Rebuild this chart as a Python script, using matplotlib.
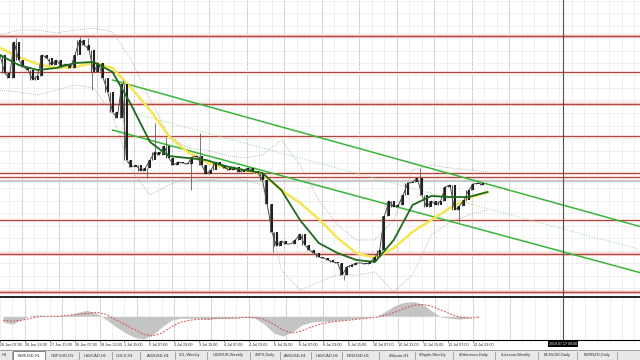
import numpy as np
import matplotlib.pyplot as plt
from matplotlib.transforms import blended_transform_factory
from matplotlib.patches import Rectangle

# ---- EURUSD H1 closes, one sample every 3 bars ----
close = [1.1385, 1.1367, 1.1362, 1.1398, 1.1380, 1.1373, 1.1370, 1.1360, 1.1364, 1.1385,
         1.1382, 1.1375, 1.1380, 1.1374, 1.1376, 1.1372, 1.1385, 1.1400, 1.1395, 1.1390,
         1.1368, 1.1377, 1.1362, 1.1348, 1.1328, 1.1322, 1.1356, 1.1280, 1.1273, 1.1275,
         1.1269, 1.1272, 1.1280, 1.1288, 1.1285, 1.1294, 1.1282, 1.1275, 1.1278, 1.1277,
         1.1276, 1.1283, 1.1284, 1.1275, 1.1266, 1.1270, 1.1278, 1.1275, 1.1272, 1.1270,
         1.1273, 1.1268, 1.1270, 1.1272, 1.1269, 1.1267, 1.1260, 1.1236, 1.1208, 1.1194,
         1.1199, 1.1196, 1.1196, 1.1200, 1.1206, 1.1195, 1.1190, 1.1187, 1.1183, 1.1182,
         1.1180, 1.1178, 1.1177, 1.1165, 1.1173, 1.1175, 1.1177, 1.1177, 1.1176, 1.1178,
         1.1183, 1.1190, 1.1224, 1.1239, 1.1233, 1.1235, 1.1245, 1.1257, 1.1258, 1.1262,
         1.1245, 1.1233, 1.1239, 1.1235, 1.1239, 1.1253, 1.1255, 1.1230, 1.1234, 1.1240,
         1.1250, 1.1256, 1.1257, 1.1255]

# long wicks (bar, extreme price)
spike_bar = [10, 51, 56, 59, 79, 94, 99, 106, 122, 128, 175, 220, 269, 294]
spike_px = [1.1402, 1.1403, 1.1402, 1.1350, 1.1360, 1.1262, 1.1317, 1.1303, 1.1250,
            1.1307, 1.1188, 1.1160, 1.1272, 1.1218]

# moving averages and bands, one sample every 12 bars
ma_fast = [1.1385, 1.1375, 1.1370, 1.1372, 1.1377, 1.1378, 1.1368, 1.1335, 1.1298, 1.1284,
           1.1282, 1.1280, 1.1274, 1.1270, 1.1267, 1.1250, 1.1220, 1.1197, 1.1187, 1.1180,
           1.1178, 1.1200, 1.1235, 1.1244, 1.1243, 1.1243, 1.1248]
ma_slow = [1.1392, 1.1383, 1.1376, 1.1372, 1.1373, 1.1377, 1.1372, 1.1352, 1.1330, 1.1304,
           1.1288, 1.1278, 1.1272, 1.1270, 1.1266, 1.1250, 1.1237, 1.1221, 1.1202, 1.1187,
           1.1182, 1.1192, 1.1208, 1.1220, 1.1232, 1.1242, 1.1248]
band_up = [1.1405, 1.1410, 1.1410, 1.1407, 1.1410, 1.1412, 1.1408, 1.1380, 1.1340, 1.1305,
           1.1292, 1.1290, 1.1285, 1.1282, 1.1285, 1.1300, 1.1275, 1.1240, 1.1215, 1.1200,
           1.1200, 1.1220, 1.1270, 1.1275, 1.1272, 1.1270, 1.1268]
band_lo = [1.1350, 1.1348, 1.1345, 1.1350, 1.1355, 1.1352, 1.1325, 1.1270, 1.1245, 1.1255,
           1.1262, 1.1260, 1.1262, 1.1260, 1.1255, 1.1170, 1.1150, 1.1158, 1.1165, 1.1165,
           1.1168, 1.1148, 1.1165, 1.1205, 1.1218, 1.1225, 1.1230]

# horizontal levels and trend lines
levels = [1.1404, 1.1368, 1.1336, 1.1304, 1.1267, 1.1263, 1.1220, 1.1186, 1.1148]
bid = 1.1259
trend_top = ([72, 420], [1.1360, 1.1209])
trend_bot = ([72, 420], [1.1310, 1.1163])
trend_mid = ([85, 420], [1.1327, 1.1186])

# OsMA histogram and signal, one sample every 6 bars
osma = [-6, -8, -3, 1, 1, 0, 1, 1, 4, 6, 3, -3, -10, -16, -21, -23, -19, -11, -4, -2,
        -2, -2, -3, -2, -2, -1, -1, -2, -8, -17, -20, -16, -9, -6, -5, -5, -4, -3, -2, -1,
        0, 5, 11, 14, 15, 12, 5, -1, -2, -3, -1, 1]
signal = [-4, -5, -4, -2, 0, 0, 0, 1, 2, 3, 4, 2, -3, -8, -13, -18, -20, -17, -11, -6,
          -4, -3, -3, -2, -2, -2, -1, -1, -3, -8, -14, -17, -15, -11, -8, -6, -5, -4, -3, -2,
          -1, 1, 4, 8, 11, 12, 10, 6, 2, -1, -2, -1]

dates = ['26 Jun 07:00', '26 Jun 23:00', '27 Jun 15:00', '28 Jun 07:00', '28 Jun 23:00',
         '1 Jul 15:00', '2 Jul 07:00', '2 Jul 23:00', '3 Jul 15:00', '4 Jul 07:00',
         '4 Jul 23:00', '5 Jul 15:00', '8 Jul 07:00', '8 Jul 23:00', '9 Jul 15:00',
         '10 Jul 07:00', '10 Jul 23:00', '11 Jul 15:00', '12 Jul 07:00', '12 Jul 23:00']

tabs = ['H1', 'EURUSD,H1', 'GBPUSD,H1', 'USDCAD,H1', 'GOLD,H1', 'AUDUSD,H1', '#CL,Weekly',
        'USDRUR,Weekly', '#SPX,Daily', 'AUDUSD,H1', 'USDCAD,H1', 'NZDUSD,H1', '#Bitcoin,H1',
        '#Ripple,Weekly', '#Ethereum,Daily', '#Litecoin,Weekly', 'BCHUSD,Daily', 'EURNZD,Daily']

# ---- layout ----
tab_x = [4, 29, 62, 95, 125, 158, 190, 228, 265, 295, 327, 358, 399, 433, 474, 516, 557, 597]
tab_sep = [12, 45, 79, 112, 140, 175, 207, 250, 280, 311, 342, 379, 415, 453, 495, 538, 577, 617]
level_w = [1.3, 0.9, 1.2, 0.9, 0.9, 0.9, 0.9, 1.2, 1.3]
cursor_bar = 360.3
font = 'Liberation Sans'

close = np.array(close)
bars = np.arange(len(close)) * 3
ma_bars = np.arange(len(ma_fast)) * 12
osma_bars = np.arange(len(osma)) * 6

fig = plt.figure(figsize=(6.4, 3.6), dpi=100)
ax = fig.add_axes([0, 64 / 360, 1, 296 / 360])
ax_ind = fig.add_axes([0, 20 / 360, 1, 43 / 360])
ax_tab = fig.add_axes([0, 0, 1, 10 / 360])

for a in (ax, ax_ind):
    a.set_xlim(0, 409.6)
    for x in np.arange(-2, 410, 8):
        a.axvline(x, color='#ececec', lw=0.6, zorder=0)
    for x in np.arange(14, 330, 24):
        a.axvline(x, color='#a8a8a8', lw=0.5, ls=(0, (1, 1)), zorder=0.5)
    a.axvline(cursor_bar, color='#505050', lw=0.8, zorder=6)

ax.set_ylim(1.1144, 1.1440)
for y in 1.1440 - (0.5 + 12.5 * np.arange(24)) / 10000:
    ax.axhline(y, color='#ececec', lw=0.6, zorder=0)

for lvl, w in zip(levels, level_w):
    ax.axhline(lvl, color='#f8dcda', lw=w + 1.4, zorder=1)
    ax.axhline(lvl, color='#b4453d', lw=w * 0.8, zorder=1.2)
ax.axhline(bid, color='#cacaca', lw=1.6, zorder=1.1)

ax.plot(ma_bars, band_up, color='#a6a6a6', lw=0.6, ls=(0, (1, 1.5)), zorder=2)
ax.plot(ma_bars, band_lo, color='#a6a6a6', lw=0.6, ls=(0, (1, 1.5)), zorder=2)
ax.plot(*trend_mid, color='#a8dca8', lw=0.8, ls=(0, (1, 1.5)), zorder=2)
ax.plot(*trend_top, color='#38b638', lw=1.1, zorder=2)
ax.plot(*trend_bot, color='#38b638', lw=1.1, zorder=2)
ax.plot(ma_bars, ma_slow, color='#f4e650', lw=1.8, zorder=3)

# candles: open = previous sample's close, thin bodies
opens = close[:-1]
closes = close[1:]
near = [close[int(round(b / 3))] for b in spike_bar]
ax.vlines(spike_bar, near, spike_px, color='#606060', lw=0.6, zorder=3.5)
ax.plot(bars, close, color='#3a3a3a', lw=0.6, zorder=3.6)
ax.vlines(bars[1:], opens, closes, color='#202020', lw=1.5, zorder=4)
ax.vlines(bars[1:] - 1.5, opens, closes, color='#555555', lw=0.8, zorder=4)
ax.plot(ma_bars, ma_fast, color='#1c6a1c', lw=1.3, zorder=5)

for s in ax.spines.values():
    s.set_visible(False)
ax.set_xticks([])
ax.set_yticks([])

# OsMA panel
ax_ind.set_ylim(-24, 19.5)
ax_ind.fill_between(osma_bars, osma, 0, color='#c4c4c4', lw=0, zorder=1)
ax_ind.plot(osma_bars, signal, color='#d05050', lw=0.7, ls=(0, (2, 1.5)), zorder=2)
ax_ind.set_yticks([])
ax_ind.set_xticks(14 + 16 * np.arange(-1, len(dates) - 1))
ax_ind.set_xticklabels(dates, ha='left', fontsize=2.7, family=font, color='#202020')
ax_ind.tick_params(axis='x', length=1.5, width=0.5, pad=0.8, color='#404040')
for side in ('left', 'right'):
    ax_ind.spines[side].set_visible(False)
ax_ind.spines['top'].set_linewidth(1.2)
ax_ind.spines['bottom'].set_linewidth(0.8)

trans = blended_transform_factory(ax_ind.transData, ax_ind.transAxes)
ax_ind.text(cursor_bar, -0.04, '2019.07.17 08:00', transform=trans, ha='center', va='top',
            fontsize=2.6, family=font, color='white',
            bbox=dict(facecolor='black', edgecolor='none', pad=0.8))

# tab bar
ax_tab.set_xlim(0, 640)
ax_tab.set_ylim(0, 10)
ax_tab.axis('off')
ax_tab.add_patch(Rectangle((0, 0), 640, 10, color='#e8e8e8', zorder=0))
ax_tab.add_patch(Rectangle((13, 0), 32, 9.5, facecolor='white', edgecolor='#707070', lw=0.6, zorder=1))
ax_tab.axhline(9.7, color='#909090', lw=0.6)
for x in tab_sep:
    ax_tab.plot([x, x], [1.5, 8.5], color='#8a8a8a', lw=0.5)
for x, t in zip(tab_x, tabs):
    ax_tab.text(x, 4.8, t, ha='center', va='center', fontsize=2.9, family=font,
                color='#303030', zorder=2)

fig.savefig('out.png', dpi=100, facecolor='white')
